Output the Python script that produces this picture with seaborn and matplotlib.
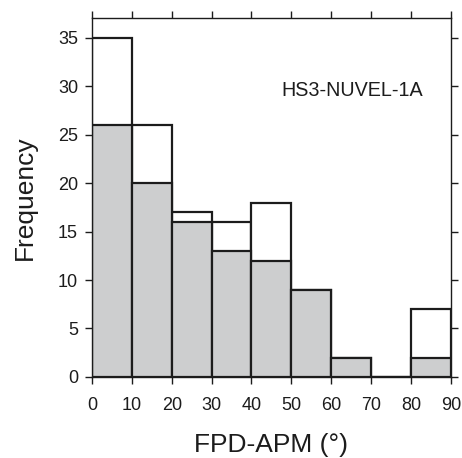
import numpy as np
import pandas as pd
import matplotlib
matplotlib.use("Agg")
import matplotlib.pyplot as plt
import seaborn as sns

# bins of FPD-APM angle (degrees)
bin_edges = [0, 10, 20, 30, 40, 50, 60, 70, 80, 90]
bin_centers = [5, 15, 25, 35, 45, 55, 65, 75, 85]
total_counts = [35, 26, 17, 16, 18, 9, 2, 0, 7]
gray_counts = [26, 20, 16, 13, 12, 9, 2, 0, 2]

df = pd.DataFrame({"angle": bin_centers, "total": total_counts, "gray": gray_counts})

sns.set_style("white")
plt.rcParams['font.family'] = ['Liberation Sans', 'DejaVu Sans']
ink = "#1c1c1c"
plt.rcParams['text.color'] = ink
plt.rcParams['axes.labelcolor'] = ink
plt.rcParams['xtick.color'] = ink
plt.rcParams['ytick.color'] = ink

fig = plt.figure(figsize=(4.62, 4.58), dpi=100)
ax = fig.add_axes([0.199, 0.177, 0.777, 0.784])

sns.histplot(data=df, x="angle", weights="total", bins=bin_edges, ax=ax,
             color="white", edgecolor=ink, linewidth=1.6, alpha=1)
sns.histplot(data=df, x="angle", weights="gray", bins=bin_edges, ax=ax,
             color="#cdcecf", edgecolor=ink, linewidth=1.6, alpha=1)

ax.set_xlim(0, 90)
ax.set_ylim(0, 37.06)
ax.set_xticks(range(0, 91, 10))
ax.set_yticks(range(0, 36, 5))
ax.tick_params(direction="out", length=5, width=1, labelsize=13,
               top=True, right=True, bottom=True, left=True)
ax.tick_params(axis="x", pad=9.5)
ax.tick_params(axis="y", pad=5)
for s in ax.spines.values():
    s.set_linewidth(1.0)
    s.set_color(ink)

ax.set_xlabel("FPD-APM (°)", fontsize=19, labelpad=13.5)
ax.set_ylabel("Frequency", fontsize=19, labelpad=15)
ax.text(65.2, 29.6, "HS3-NUVEL-1A", fontsize=14.2, ha="center", va="center")

fig.savefig("out.png", dpi=100)
